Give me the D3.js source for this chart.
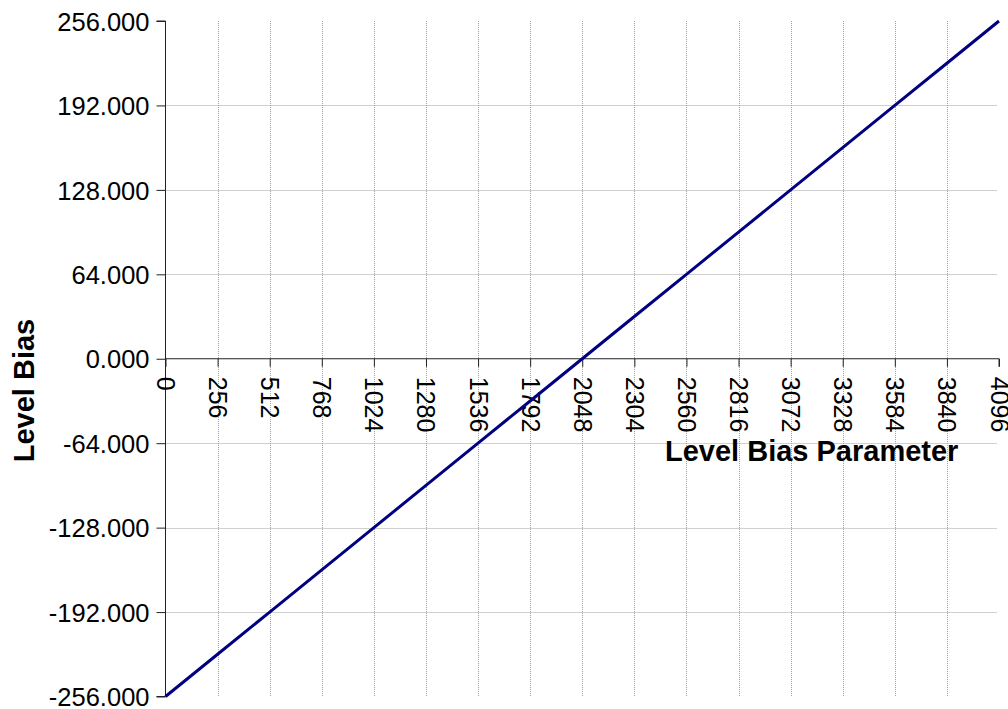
<!DOCTYPE html>
<html>
<head>
<meta charset="utf-8">
<script src="https://cdn.jsdelivr.net/npm/d3@7"></script>
<style>
  html, body { margin: 0; padding: 0; background: #fff; }
  svg { display: block; }
  text { font-family: "Liberation Sans", Arial, sans-serif; fill: #000; }
</style>
</head>
<body>
<svg id="chart" width="1008" height="709"></svg>
<script>
// ---- data ----
const xParam = [0, 256, 512, 768, 1024, 1280, 1536, 1792, 2048, 2304, 2560, 2816, 3072, 3328, 3584, 3840, 4096];
const yBias  = [-256, -224, -192, -160, -128, -96, -64, -32, 0, 32, 64, 96, 128, 160, 192, 224, 256];
const xTickValues = [0, 256, 512, 768, 1024, 1280, 1536, 1792, 2048, 2304, 2560, 2816, 3072, 3328, 3584, 3840, 4096];
const yTickValues = [-256, -192, -128, -64, 0, 64, 128, 192, 256];
const yTickLabels = ["-256.000", "-192.000", "-128.000", "-64.000", "0.000", "64.000", "128.000", "192.000", "256.000"];
const xTitle = "Level Bias Parameter";
const yTitle = "Level Bias";

// ---- layout ----
const svg = d3.select("#chart");
const plotL = 165.5, plotR = 999, plotT = 21, plotB = 696.5;

const x = d3.scaleLinear().domain([0, 4096]).range([plotL, plotR]);
const y = d3.scaleLinear().domain([-256, 256]).range([plotB, plotT]);

// gridlines
const grid = svg.append("g");
grid.selectAll("line.v")
  .data(xTickValues.filter(v => v !== 0 && v !== 4096))
  .join("line")
  .attr("x1", d => Math.round(x(d)) + 0.5).attr("x2", d => Math.round(x(d)) + 0.5)
  .attr("y1", plotT).attr("y2", plotB)
  .attr("stroke", "#a0a0a0").attr("stroke-width", 1).attr("stroke-dasharray", "1,1");
grid.selectAll("line.h")
  .data(yTickValues.filter(v => v !== 0 && Math.abs(v) !== 256))
  .join("line")
  .attr("x1", plotL).attr("x2", plotR - 2)
  .attr("y1", d => Math.round(y(d)) + 0.5).attr("y2", d => Math.round(y(d)) + 0.5)
  .attr("stroke", "#a0a0a0").attr("stroke-width", 1).attr("stroke-dasharray", "1,1");

// y axis
const yAxis = d3.axisLeft(y)
  .tickValues(yTickValues)
  .tickSize(9)
  .tickPadding(7)
  .tickFormat((d, i) => yTickLabels[i]);
const gy = svg.append("g").attr("transform", `translate(${plotL},0)`).call(yAxis);
gy.select(".domain").attr("stroke", "#222").attr("d", `M-9,${y(256)}H0V${y(-256)}H-9`);
gy.selectAll(".tick line").attr("stroke", "#222");
gy.selectAll(".tick text")
  .attr("font-size", "25.5px")
  .attr("font-family", "'Liberation Sans', Arial, sans-serif")
  .attr("dy", "0.36em")
  .attr("fill", "#000");

// x axis (at y = 0)
const xAxis = d3.axisBottom(x)
  .tickValues(xTickValues)
  .tickSize(8)
  .tickFormat(d3.format("d"));
const gx = svg.append("g").attr("transform", `translate(0,${y(0)})`).call(xAxis);
gx.select(".domain").attr("stroke", "#222").attr("d", `M${x(0)},0H${x(4096)}V8`);
gx.selectAll(".tick line").attr("stroke", "#222");
gx.selectAll(".tick text")
  .attr("font-size", "25px")
  .attr("font-family", "'Liberation Sans', Arial, sans-serif")
  .attr("transform", "rotate(90)")
  .attr("text-anchor", "start")
  .attr("x", 18)
  .attr("y", 0)
  .attr("dy", "0.36em")
  .attr("fill", "#000");

// series line
const line = d3.line().x((d, i) => x(xParam[i])).y(d => y(d));
svg.append("path")
  .datum(yBias)
  .attr("d", line)
  .attr("fill", "none")
  .attr("stroke", "#000080")
  .attr("stroke-width", 3)
  .attr("stroke-linejoin", "round");

// titles
svg.append("text")
  .attr("x", 665).attr("y", 460.5)
  .attr("font-size", "29px").attr("font-weight", "bold")
  .text(xTitle);

svg.append("text")
  .attr("transform", "translate(33.5,390.5) rotate(-90)")
  .attr("text-anchor", "middle")
  .attr("font-size", "29px").attr("font-weight", "bold")
  .text(yTitle);
</script>
</body>
</html>
